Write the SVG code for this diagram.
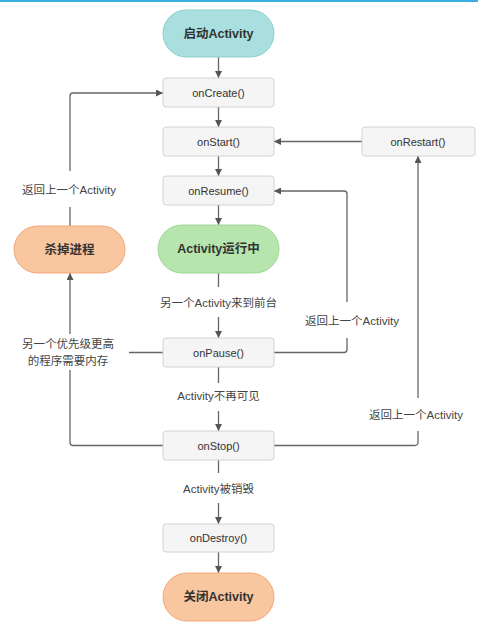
<svg xmlns="http://www.w3.org/2000/svg" width="478" height="642" viewBox="0 0 478 642">
<defs>
<style>
text{font-family:"Liberation Sans","Noto Sans CJK SC",sans-serif;fill:#333;text-anchor:middle;dominant-baseline:central}
.box{fill:#F5F5F5;stroke:#D2D2D2;stroke-width:1}
.bt{font-size:11px}
.pt{font-size:12.5px;font-weight:bold}
.lb{font-size:11.5px;fill:#444}
.ln{fill:none;stroke:#666;stroke-width:1.3}
</style>
<marker id="ah" viewBox="0 0 10 10" refX="10" refY="5" markerWidth="7" markerHeight="7" markerUnits="userSpaceOnUse" orient="auto">
<path d="M0 0 L10 5 L0 10 Z" fill="#555"/>
</marker>
</defs>
<rect x="0" y="0" width="478" height="2" fill="#3AAEE0"/>
<g id="connectors">
<path class="ln" d="M218.5 57 V78" marker-end="url(#ah)"/>
<path class="ln" d="M218.5 107 V127" marker-end="url(#ah)"/>
<path class="ln" d="M218.5 156 V176" marker-end="url(#ah)"/>
<path class="ln" d="M218.5 205 V225" marker-end="url(#ah)"/>
<path class="ln" d="M218.5 273 V287"/>
<path class="ln" d="M218.5 317 V338" marker-end="url(#ah)"/>
<path class="ln" d="M218.5 367 V383"/>
<path class="ln" d="M218.5 411 V431" marker-end="url(#ah)"/>
<path class="ln" d="M218.5 460 V473"/>
<path class="ln" d="M218.5 503 V524" marker-end="url(#ah)"/>
<path class="ln" d="M218.5 552 V573" marker-end="url(#ah)"/>
<path class="ln" d="M274 352.5 H344 A3 3 0 0 0 347 349.5 V338"/>
<path class="ln" d="M347 302 V194 A3 3 0 0 0 344 191 H274" marker-end="url(#ah)"/>
<path class="ln" d="M274 445.5 H415 A3 3 0 0 0 418 442.5 V431"/>
<path class="ln" d="M418 398 V156" marker-end="url(#ah)"/>
<path class="ln" d="M362 141.5 H274" marker-end="url(#ah)"/>
<path class="ln" d="M163 352.5 H129"/>
<path class="ln" d="M163 445.5 H73 A3 3 0 0 1 70 442.5 V370"/>
<path class="ln" d="M70 334 V273" marker-end="url(#ah)"/>
<path class="ln" d="M70 226 V207"/>
<path class="ln" d="M70 171 V96 A3 3 0 0 1 73 93 H163" marker-end="url(#ah)"/>
</g>
<g id="start"><rect x="163" y="10" width="111" height="47" rx="23.5" fill="#A9E0DF" stroke="#8CCFCB"/><text class="pt" x="218.5" y="33.5">启动Activity</text></g>
<g id="onCreate"><rect class="box" x="163" y="78" width="111" height="29" rx="3"/><text class="bt" x="218.5" y="92.5">onCreate()</text></g>
<g id="onStart"><rect class="box" x="163" y="127" width="111" height="29" rx="3"/><text class="bt" x="218.5" y="141.5">onStart()</text></g>
<g id="onRestart"><rect class="box" x="362" y="127" width="113" height="29" rx="3"/><text class="bt" x="418" y="141.5">onRestart()</text></g>
<g id="onResume"><rect class="box" x="163" y="176" width="111" height="29" rx="3"/><text class="bt" x="218.5" y="190.5">onResume()</text></g>
<g id="running"><rect x="158" y="225" width="121" height="48" rx="24" fill="#B6E5AD" stroke="#9FD698"/><text class="pt" x="218.5" y="249">Activity运行中</text></g>
<g id="kill"><rect x="14" y="226" width="111" height="47" rx="23.5" fill="#F8C69F" stroke="#F2A77A"/><text class="pt" x="69.5" y="249.5">杀掉进程</text></g>
<g id="onPause"><rect class="box" x="163" y="338" width="111" height="29" rx="3"/><text class="bt" x="218.5" y="352.5">onPause()</text></g>
<g id="onStop"><rect class="box" x="163" y="431" width="111" height="29" rx="3"/><text class="bt" x="218.5" y="445.5">onStop()</text></g>
<g id="onDestroy"><rect class="box" x="163" y="524" width="111" height="28" rx="3"/><text class="bt" x="218.5" y="538">onDestroy()</text></g>
<g id="end"><rect x="163" y="573" width="111" height="48" rx="24" fill="#F8C69F" stroke="#F2A77A"/><text class="pt" x="218.5" y="597">关闭Activity</text></g>
<g id="labels">
<text class="lb" x="218.5" y="303">另一个Activity来到前台</text>
<text class="lb" x="218.5" y="396">Activity不再可见</text>
<text class="lb" x="218.5" y="489">Activity被销毁</text>
<text class="lb" x="352" y="321">返回上一个Activity</text>
<text class="lb" x="416" y="415">返回上一个Activity</text>
<text class="lb" x="69" y="190">返回上一个Activity</text>
<text class="lb" x="68" y="344">另一个优先级更高</text>
<text class="lb" x="68" y="361">的程序需要内存</text>
</g>
</svg>
